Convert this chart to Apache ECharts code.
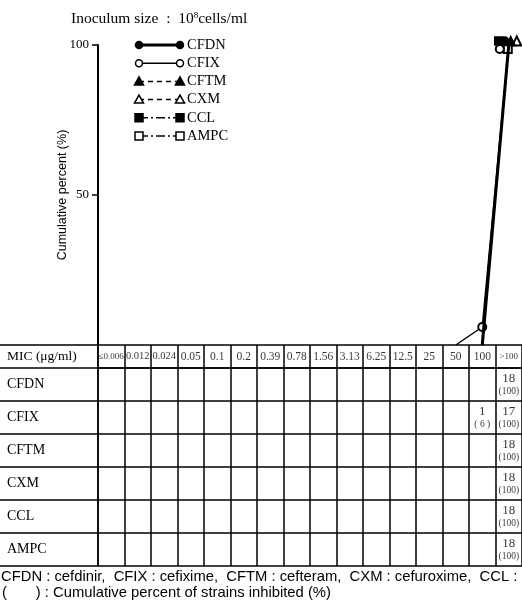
<!DOCTYPE html>
<html>
<head>
<meta charset="utf-8">
<script src="https://cdn.jsdelivr.net/npm/echarts@6/dist/echarts.min.js"></script>
<style>
html,body{margin:0;padding:0;background:#fff}
#chart{width:522px;height:600px}
</style>
</head>
<body>
<div id="chart"></div>
<script>
// MIC columns (µg/ml)
const micLabels = ['≤0.006','0.012','0.024','0.05','0.1','0.2','0.39','0.78','1.56','3.13','6.25','12.5','25','50','100','>100'];
const drugs = ['CFDN','CFIX','CFTM','CXM','CCL','AMPC'];

// cumulative percent of strains inhibited (null = not plotted)
const cumCFDN = [null,null,null,null,null,null,null,null,null,null,null,null,null,null,0,100];
const cumCFIX = [null,null,null,null,null,null,null,null,null,null,null,null,null,0,6,100];
const cumCFTM = [null,null,null,null,null,null,null,null,null,null,null,null,null,null,0,100];
const cumCXM  = [null,null,null,null,null,null,null,null,null,null,null,null,null,null,0,100];
const cumCCL  = [null,null,null,null,null,null,null,null,null,null,null,null,null,null,0,100];
const cumAMPC = [null,null,null,null,null,null,null,null,null,null,null,null,null,null,0,100];

// number of strains per MIC column
const nCFDN = [0,0,0,0,0,0,0,0,0,0,0,0,0,0,0,18];
const nCFIX = [0,0,0,0,0,0,0,0,0,0,0,0,0,0,1,17];
const nCFTM = [0,0,0,0,0,0,0,0,0,0,0,0,0,0,0,18];
const nCXM  = [0,0,0,0,0,0,0,0,0,0,0,0,0,0,0,18];
const nCCL  = [0,0,0,0,0,0,0,0,0,0,0,0,0,0,0,18];
const nAMPC = [0,0,0,0,0,0,0,0,0,0,0,0,0,0,0,18];

const cumAll = [cumCFDN, cumCFIX, cumCFTM, cumCXM, cumCCL, cumAMPC];
const countAll = [nCFDN, nCFIX, nCFTM, nCXM, nCCL, nAMPC];

const SERIF = '"Liberation Serif", "DejaVu Serif", serif';
const SANS = '"Liberation Sans", "DejaVu Sans", sans-serif';

// drawing style of each drug's curve
const styles = [
  {symbol:'circle',        size:8, width:3,   type:'solid',       legend:'circle', filled:true,  off:[-4,-4]},
  {symbol:'emptyCircle',   size:8, width:1.5, type:'solid',       legend:'circle', filled:false, off:[-9,4]},
  {symbol:'triangle',      size:9, width:1.5, type:[5,4],         legend:'tri',    filled:true,  off:[2,-4]},
  {symbol:'emptyTriangle', size:9, width:1.5, type:[5,4],         legend:'tri',    filled:false, off:[8,-4]},
  {symbol:'rect',          size:8, width:1.5, type:[9,3,2,3],     legend:'rect',   filled:true,  off:[-10,-4]},
  {symbol:'emptyRect',     size:8, width:1.5, type:[9,3,2,3],     legend:'rect',   filled:false, off:[-1,4]}
];

const lineSeries = drugs.map((name, k) => {
  const st = styles[k];
  const data = cumAll[k].map((v, i) => {
    if (v === null) return null;
    if (v === 0) return {value: 0, symbol: 'none'};
    if (i === micLabels.length - 1) return {value: v, symbolOffset: st.off};
    return v;
  });
  return {
    name, type: 'line', xAxisIndex: 0, yAxisIndex: 0,
    data, symbol: st.symbol, symbolSize: st.size, showAllSymbol: true,
    connectNulls: false, clip: false, animation: false,
    lineStyle: {color: '#000', width: st.width, type: st.type},
    itemStyle: {color: '#000', borderColor: '#000', borderWidth: 1.5},
    z: 5 + (6 - k)
  };
});

// table body: count with cumulative percent beneath
const cellData = [];
drugs.forEach((d, r) => {
  countAll[r].forEach((n, c) => {
    if (n > 0) {
      const p = cumAll[r][c];
      const ptxt = p === 100 ? '{p|(100)}' : '{p|( ' + p + ' )}';
      cellData.push({value: [c, r], label: {formatter: '{n|' + n + '}\n' + ptxt}});
    }
  });
});

// header cells; the longest labels are set a little tighter
const headerData = micLabels.map((m, i) => {
  let f = m;
  if (m === '≤0.006' || m === '>100') f = '{s|' + m + '}';
  else if (m.length >= 5) f = '{t|' + m + '}';
  return {value: [i, 0], label: {formatter: f}};
});

// legend drawn as line samples with end markers
const legendItems = [];
drugs.forEach((d, k) => {
  const st = styles[k];
  const y = 45 + k * 18.2;
  const x1 = 139, x2 = 180;
  legendItems.push({type:'line', shape:{x1, y1:y, x2, y2:y},
    style:{stroke:'#000', lineWidth: st.width, lineDash: st.type === 'solid' ? null : st.type}});
  [x1, x2].forEach(x => {
    const fill = st.filled ? '#000' : '#fff';
    const sty = {fill, stroke:'#000', lineWidth:1.5};
    if (st.legend === 'circle') legendItems.push({type:'circle', shape:{cx:x, cy:y, r:3.5}, style:sty, z:10});
    else if (st.legend === 'tri') legendItems.push({type:'polygon', shape:{points:[[x, y-4.5],[x+4.5, y+3.5],[x-4.5, y+3.5]]}, style:sty, z:10});
    else legendItems.push({type:'rect', shape:{x:x-4, y:y-4, width:8, height:8}, style:sty, z:10});
  });
  legendItems.push({type:'text', x: 187, y: y, style:{text: d, font: '14.5px ' + SERIF, fill:'#000', textVerticalAlign:'middle', textBaseline:'middle'}});
});

const gridLine = {color:'#000', width:1.5};

const chart = echarts.init(document.getElementById('chart'), null, {renderer:'canvas'});
chart.setOption({
  animation: false,
  backgroundColor: '#fff',
  title: [{
    text: 'Inoculum size  :  10{sup|8}cells/ml', left: 66, top: 6,
    textStyle: {fontFamily: SERIF, fontSize: 15.5, fontWeight: 'normal', color: '#000',
      rich: {sup: {fontFamily: SERIF, fontSize: 9, verticalAlign: 'top', padding: [0,0,7,0]}}}
  }],
  grid: [
    {left: 98, right: 0, top: 45, height: 300},
    {left: 98, right: 0, top: 345, height: 23},
    {left: 98, right: 0, top: 368, height: 198}
  ],
  xAxis: [
    {type:'category', gridIndex:0, data: micLabels, boundaryGap:true, show:false},
    {type:'category', gridIndex:1, data: micLabels, boundaryGap:true,
      axisLine:{show:false}, axisTick:{show:false, interval:0}, axisLabel:{show:false, interval:0},
      splitLine:{show:true, interval:0, lineStyle:gridLine}},
    {type:'category', gridIndex:2, data: micLabels, boundaryGap:true,
      axisLine:{show:false}, axisTick:{show:false, interval:0}, axisLabel:{show:false, interval:0},
      splitLine:{show:true, interval:0, lineStyle:gridLine}}
  ],
  yAxis: [
    {type:'value', gridIndex:0, min:0, max:100, interval:50,
      name: 'Cumulative percent (%)', nameLocation:'middle', nameGap: 29, nameRotate: 90,
      nameMoveOverlap: false,
      nameTextStyle:{fontFamily: SANS, fontSize: 12.5, color:'#000'},
      axisLine:{show:true, lineStyle:{color:'#000', width:2}},
      axisTick:{show:true, length:6, lineStyle:{color:'#000', width:1.5}},
      axisLabel:{fontFamily: SERIF, fontSize: 13, color:'#000', margin: 9,
        formatter: v => v === 0 ? '' : String(v)},
      splitLine:{show:false}},
    {type:'category', gridIndex:1, data:['MIC (μg/ml)'], boundaryGap:true,
      axisLine:{show:true, lineStyle:gridLine},
      axisTick:{show:true, length:98, lineStyle:gridLine},
      axisLabel:{align:'left', margin:91, fontFamily: SERIF, fontSize: 13.5, color:'#000'},
      splitLine:{show:true, lineStyle:gridLine}},
    {type:'category', gridIndex:2, data: drugs, inverse:true, boundaryGap:true,
      axisLine:{show:true, lineStyle:gridLine},
      axisTick:{show:true, length:98, interval:0, lineStyle:gridLine},
      axisLabel:{align:'left', margin:91, interval:0, fontFamily: SERIF, fontSize: 14, color:'#000'},
      splitLine:{show:true, interval:0, lineStyle:gridLine}}
  ],
  series: [
    ...lineSeries,
    {type:'scatter', xAxisIndex:1, yAxisIndex:1, symbolSize:0, data: headerData, silent:true,
      label:{show:true, position:'inside', color:'#000', fontFamily: SERIF, fontSize: 11.5,
        rich:{s:{fontFamily: SERIF, fontSize: 9, color:'#000'},
              t:{fontFamily: SERIF, fontSize: 10.5, color:'#000'}}}},
    {type:'scatter', xAxisIndex:2, yAxisIndex:2, symbolSize:0, data: cellData, silent:true,
      label:{show:true, position:'inside', color:'#000', fontFamily: SERIF, lineHeight: 12,
        rich:{n:{fontFamily: SERIF, fontSize: 13, lineHeight: 14, color:'#000'},
              p:{fontFamily: SERIF, fontSize: 9.5, lineHeight: 11, color:'#000'}}}}
  ],
  graphic: [
    ...legendItems,
    {type:'text', left: 1, top: 569, style:{text:'CFDN : cefdinir,  CFIX : cefixime,  CFTM : cefteram,  CXM : cefuroxime,  CCL :', font: '14.8px ' + SANS, fill:'#000'}},
    {type:'text', left: 2, top: 585, style:{text:'(       ) : Cumulative percent of strains inhibited (%)', font: '14.8px ' + SANS, fill:'#000'}}
  ]
});
</script>
</body>
</html>
